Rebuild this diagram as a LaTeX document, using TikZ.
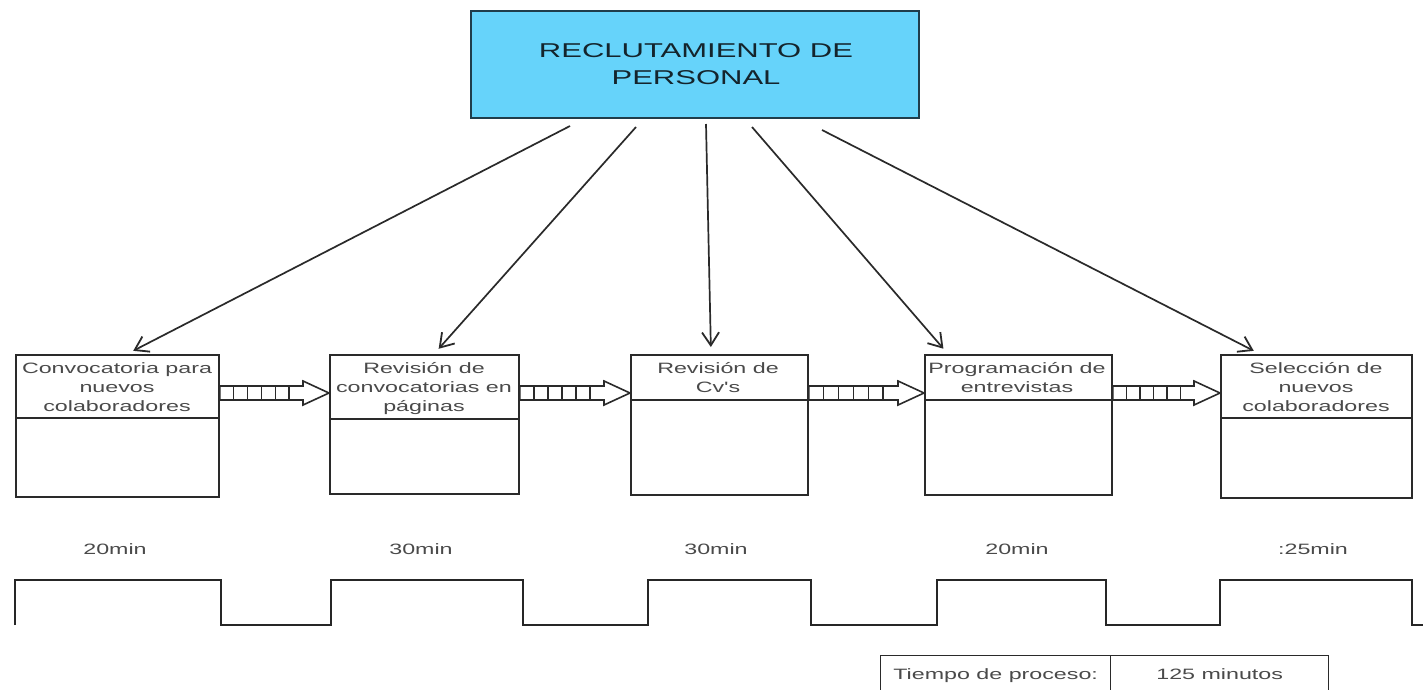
\documentclass[tikz,border=0pt]{standalone}
\usepackage{fontspec}
\usetikzlibrary{arrows.meta,calc}
\newfontfamily\wf[FakeStretch=1.55]{Liberation Sans}
\definecolor{titlefill}{HTML}{66D3FA}
\definecolor{titleline}{HTML}{1F3D4B}
\definecolor{titletext}{HTML}{14242C}
\definecolor{ink}{HTML}{2A2A2A}
\definecolor{txt}{HTML}{4A4A4A}
\tikzset{
  titlebox/.style={draw=titleline, line width=2.2pt, fill=titlefill, inner sep=0pt, anchor=north west},
  procbox/.style={draw=ink, line width=1.8pt, inner sep=0pt, anchor=north west},
  divline/.style={draw=ink, line width=1.6pt},
  lbl/.style={inner sep=0pt, anchor=north, align=center, text=txt, font=\wf\fontsize{15}{19}\selectfont},
  tlbl/.style={inner sep=0pt, text=txt, font=\wf\fontsize{15}{19}\selectfont},
  conn/.style={draw=ink, line width=1.7pt, -{Straight Barb[length=13pt,width=17pt,line width=1.8pt]}, shorten >=7pt},
  fat/.style={draw=ink, line width=1.6pt, fill=white, line join=miter},
  stripe/.style={draw=ink, line width=1.4pt},
  wave/.style={draw=black!85, line width=2.3pt, line join=miter},
  cell/.style={draw=ink, line width=1.3pt, inner sep=0pt, anchor=north west, minimum height=40pt, text height=11pt, text depth=3pt, text=txt, font=\wf\fontsize{15}{19}\selectfont}
}
\newcommand\stripearrow[2]{%
  \coordinate (#1a) at ($(#1.east |- ay)$);
  \coordinate (#1h) at ($(#2.west |- ay)+(-26,0)$);
  \draw[fat] let \p1=(#1a), \p2=(#1h), \p3=(#2.west |- ay) in
    (\x1,\y1+7pt) -- (\x2,\y1+7pt) -- (\x2,\y1+12pt) -- (\x3,\y1) -- (\x2,\y1-12pt) -- (\x2,\y1-7pt) -- (\x1,\y1-7pt) -- cycle;
  \foreach \i in {1,...,5}{
    \draw[stripe] ($(#1a)!\i/6!(#1h)+(0,-7)$) -- ($(#1a)!\i/6!(#1h)+(0,7)$);
  }
}
\begin{document}
\begin{tikzpicture}[x=1pt,y=-1pt]
\useasboundingbox (0,0) rectangle (1423,689);
\fill[white] (0,0) rectangle (1423,689);

% title
\node[titlebox, minimum width=448pt, minimum height=107pt] (top) at (470,10) {};
\node[inner sep=0pt, align=center, text=titletext, font=\wf\fontsize{20}{27}\selectfont] (toptxt) at (696,64) {RECLUTAMIENTO DE\\PERSONAL};

% process boxes
\node[procbox, minimum width=203pt, minimum height=142pt] (b1) at (15,354) {};
\node[procbox, minimum width=189pt, minimum height=139pt] (b2) at (329,354) {};
\node[procbox, minimum width=177pt, minimum height=140pt] (b3) at (630,354) {};
\node[procbox, minimum width=187pt, minimum height=140pt] (b4) at (924,354) {};
\node[procbox, minimum width=191pt, minimum height=143pt] (b5) at (1220,354) {};

\draw[divline] (b1.west |- 0,418) -- (b1.east |- 0,418);
\draw[divline] (b2.west |- 0,419) -- (b2.east |- 0,419);
\draw[divline] (b3.west |- 0,400) -- (b3.east |- 0,400);
\draw[divline] (b4.west |- 0,400) -- (b4.east |- 0,400);
\draw[divline] (b5.west |- 0,418) -- (b5.east |- 0,418);

\node[lbl] (l1) at (117,362) {Convocatoria para\\nuevos\\colaboradores};
\node[lbl] (l2) at (424,362) {Revisión de\\convocatorias en\\páginas};
\node[lbl] (l3) at (718,362) {Revisión de\\Cv's};
\node[lbl] (l4) at (1017,362) {Programación de\\entrevistas};
\node[lbl] (l5) at (1316,362) {Selección de\\nuevos\\colaboradores};

% connectors from title
\coordinate (s1) at (570,126);
\coordinate (s2) at (636,127);
\coordinate (s3) at (706,124);
\coordinate (s4) at (752,127);
\coordinate (s5) at (822,130);
\coordinate (e1) at ($(b1.north west)+(112,0)$);
\coordinate (e2) at ($(b2.north west)+(105,0)$);
\coordinate (e3) at ($(b3.north west)+(81,0)$);
\coordinate (e4) at ($(b4.north west)+(24,0)$);
\coordinate (e5) at ($(b5.north west)+(40,0)$);
\draw[conn] (s1) -- (e1);
\draw[conn] (s2) -- (e2);
\draw[conn] (s3) -- (e3);
\draw[conn] (s4) -- (e4);
\draw[conn] (s5) -- (e5);

% striped arrows
\coordinate (ay) at (0,393);
\stripearrow{b1}{b2}
\stripearrow{b2}{b3}
\stripearrow{b3}{b4}
\stripearrow{b4}{b5}

% times
\node[tlbl] (t1) at (115,549) {20min};
\node[tlbl] (t2) at (421,549) {30min};
\node[tlbl] (t3) at (716,549) {30min};
\node[tlbl] (t4) at (1017,549) {20min};
\node[tlbl] (t5) at (1313,549) {:25min};

% wave
\draw[wave] (15,625) -- (15,580) -- (221,580) -- (221,625) -- (331,625) -- (331,580)
  -- (523,580) -- (523,625) -- (648,625) -- (648,580) -- (811,580) -- (811,625)
  -- (937,625) -- (937,580) -- (1106,580) -- (1106,625) -- (1220,625) -- (1220,580)
  -- (1412,580) -- (1412,625) -- (1423,625);

% totals table
\node[cell, minimum width=230pt] (c1) at (880,655) {Tiempo de proceso:};
\node[cell, minimum width=218pt] (c2) at (1110,655) {125 minutos};
\end{tikzpicture}
\end{document}
